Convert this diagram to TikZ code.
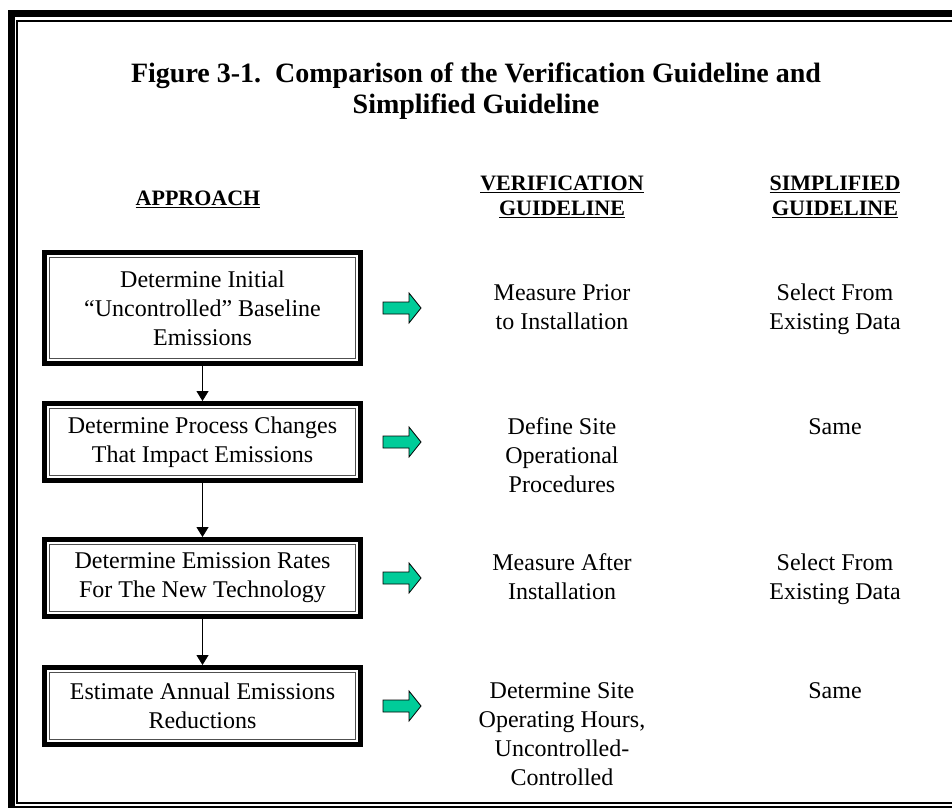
\documentclass[tikz,border=0pt]{standalone}
\usepackage{fontspec}
\setmainfont{Liberation Serif}
\usetikzlibrary{arrows.meta}
\definecolor{agreen}{RGB}{0,204,153}
\definecolor{innerline}{RGB}{80,80,80}
\newcommand{\mcell}[1]{\begin{tabular}[t]{@{}c@{}}#1\end{tabular}}
\newcommand{\bodyfont}{\fontsize{18}{21.75}\selectfont}
\newcommand{\headfont}{\fontsize{16.5}{18.75}\selectfont\bfseries}
\newcommand{\titlefont}{\fontsize{21}{23.25}\selectfont\bfseries}
\tikzset{
  appbox/.style={fill=white, draw=innerline, line width=0.9pt, align=center,
    font=\bodyfont, inner sep=0pt, minimum width=229.5pt, outer sep=5.6pt,
    preaction={draw=black, line width=11.25pt},
    preaction={draw=white, line width=3.75pt}},
  coltext/.style={anchor=base, inner sep=0pt, font=\bodyfont},
  flow/.style={line width=0.75pt, -{Triangle[length=7.5pt,width=9pt]}},
  garrow/.pic={\draw[fill=agreen, line width=0.6pt]
     (0,-6) -- (26,-6) -- (26,-15) -- (38,0) -- (26,15) -- (26,6) -- (0,6) -- cycle;}
}
\begin{document}
\begin{tikzpicture}[x=0.75pt, y=-0.75pt]
\useasboundingbox (0,0) rectangle (952,807);
\begin{scope}
  \clip (0,0) rectangle (952,807);
  \draw[line width=5.25pt] (11.5,13.5) rectangle (1000,809);
  \draw[line width=1.2pt] (17,21) rectangle (1000,803);
\end{scope}

% title
\node[anchor=base, inner sep=0pt, font=\titlefont] (title) at (476,82)
  {\mcell{Figure 3-1.\hspace{0.5em}Comparison of the Verification Guideline and\\Simplified Guideline}};

% headers
\node[anchor=base, inner sep=0pt, font=\headfont] (h1) at (198,205) {\underline{APPROACH}};
\node[anchor=base, inner sep=0pt, font=\headfont] (h2) at (562,190) {\mcell{\underline{VERIFICATION}\\\underline{GUIDELINE}}};
\node[anchor=base, inner sep=0pt, font=\headfont] (h3) at (835,190) {\mcell{\underline{SIMPLIFIED}\\\underline{GUIDELINE}}};

% approach boxes
\node[appbox, minimum height=75.75pt] (b1) at (202.5,308) {Determine Initial\\“Uncontrolled” Baseline\\Emissions};
\node[appbox, minimum height=50.25pt] (b2) at (202.5,442) {Determine Process Changes\\That Impact Emissions};
\node[appbox, minimum height=50.25pt] (b3) at (202.5,578) {Determine Emission Rates\\For The New Technology};
\node[appbox, minimum height=50.25pt] (b4) at (202.5,706) {Estimate Annual Emissions\\Reductions};

\draw[flow] (b1.south) -- (b2.north);
\draw[flow] (b2.south) -- (b3.north);
\draw[flow] (b3.south) -- (b4.north);

% green arrows
\pic at (383,308) {garrow};
\pic at (383,442) {garrow};
\pic at (383,578) {garrow};
\pic at (383,706) {garrow};

% verification column
\node[coltext] (v1) at (562,300) {\mcell{Measure Prior\\to Installation}};
\node[coltext] (v2) at (562,434) {\mcell{Define Site\\Operational\\Procedures}};
\node[coltext] (v3) at (562,570) {\mcell{Measure After\\Installation}};
\node[coltext] (v4) at (562,698) {\mcell{Determine Site\\Operating Hours,\\Uncontrolled-\\Controlled}};

% simplified column
\node[coltext] (s1) at (835,300) {\mcell{Select From\\Existing Data}};
\node[coltext] (s2) at (835,434) {Same};
\node[coltext] (s3) at (835,570) {\mcell{Select From\\Existing Data}};
\node[coltext] (s4) at (835,698) {Same};
\end{tikzpicture}
\end{document}
